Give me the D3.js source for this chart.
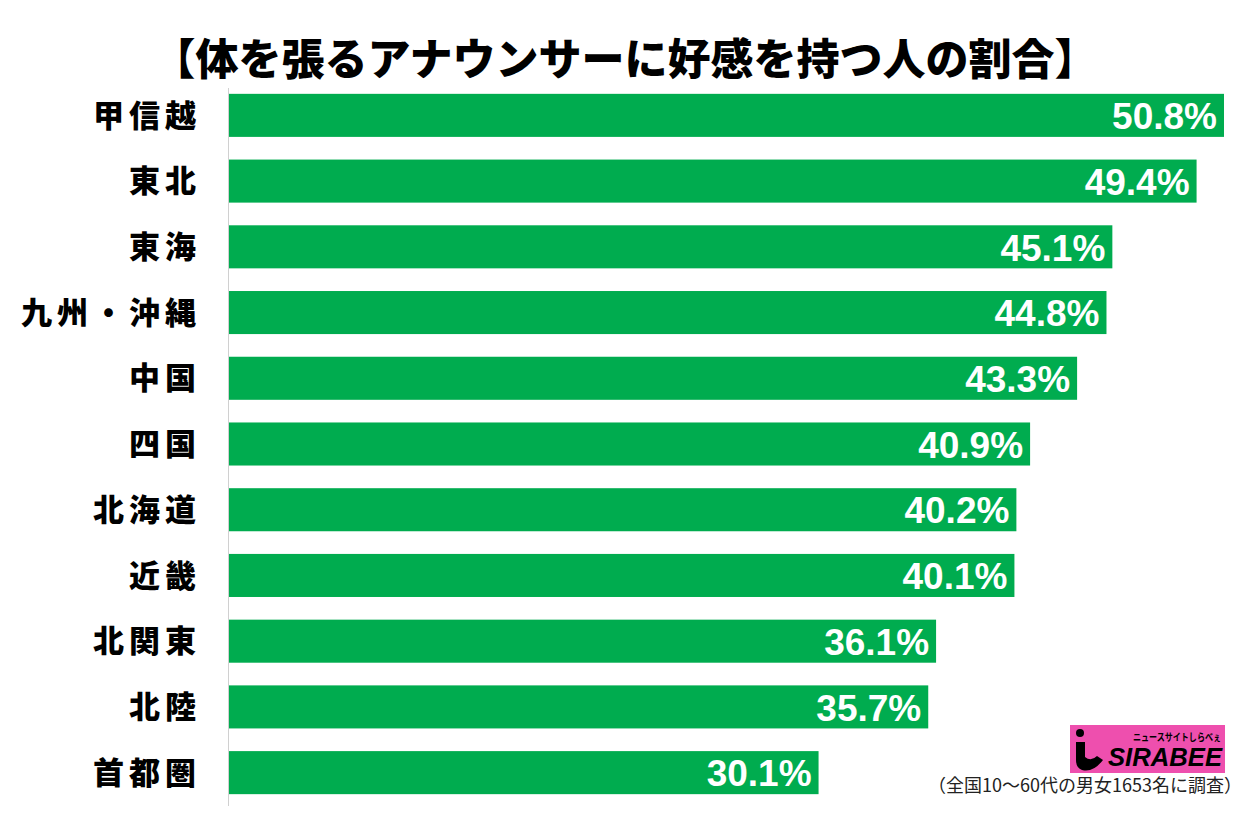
<!DOCTYPE html>
<html><head><meta charset="utf-8">
<script src="https://cdn.jsdelivr.net/npm/d3@7"></script>
<style>body{margin:0;background:#fff;} svg{display:block;}</style>
</head><body>
<script>
const categories = ["甲信越","東北","東海","九州・沖縄","中国","四国","北海道","近畿","北関東","北陸","首都圏"];
const values = [50.8,49.4,45.1,44.8,43.3,40.9,40.2,40.1,36.1,35.7,30.1];
const title = "【体を張るアナウンサーに好感を持つ人の割合】";
const footnote = "（全国10～60代の男女1653名に調査）";

const W = 1260, H = 813;
const svg = d3.select("body").append("svg").attr("width", W).attr("height", H);
const x = d3.scaleLinear().domain([0, 50.8]).range([229, 1224]);
const y = d3.scaleBand().domain(categories).range([82.5, 805.5]).paddingInner(0.345).paddingOuter(0.1725);

svg.append("text").attr("x", 625).attr("y", 75).attr("text-anchor", "middle")
  .attr("font-family", "'Noto Sans CJK JP'").attr("font-weight", 900).attr("font-size", 43)
  .attr("fill", "#000").text(title);

svg.append("line").attr("x1", 228.5).attr("x2", 228.5).attr("y1", 88).attr("y2", 806)
  .attr("stroke", "#d0d0d0").attr("stroke-width", 1);

svg.selectAll("rect.bar").data(values).join("rect").attr("class", "bar")
  .attr("x", x(0)).attr("y", (d, i) => y(categories[i]))
  .attr("width", d => x(d) - x(0)).attr("height", y.bandwidth())
  .attr("fill", "#00AC4F");

svg.selectAll("text.cat").data(categories).join("text").attr("class", "cat")
  .attr("y", d => y(d) + y.bandwidth() / 2).attr("dy", "0.36em")
  .attr("font-family", "'Noto Sans CJK JP'").attr("font-weight", 900)
  .attr("font-size", 31).attr("fill", "#000")
  .each(function(d){
    const t = d3.select(this);
    const chars = Array.from(d);
    const adv = 36;
    chars.forEach((c, k) => {
      t.append("tspan").attr("x", 196 - 31 - (chars.length - 1 - k) * adv).text(c);
    });
  });

svg.selectAll("text.val").data(values).join("text").attr("class", "val")
  .attr("x", d => x(d) - 7).attr("y", (d, i) => y(categories[i]) + y.bandwidth() / 2).attr("dy", "0.37em")
  .attr("text-anchor", "end").attr("font-family", "'Liberation Sans', Arial").attr("font-weight", 700)
  .attr("font-size", 37).attr("fill", "#fff")
  .text(d => d.toFixed(1) + "%");

// logo
const g = svg.append("g");
g.append("rect").attr("x", 1070).attr("y", 725).attr("width", 155).attr("height", 48).attr("fill", "#EE4FAE");
g.append("circle").attr("cx", 1080).attr("cy", 733).attr("r", 4).attr("fill", "#000");
g.append("path").attr("d", "M1076,742 L1085,742 L1085,757 Q1091,762 1097,756 L1103,760 Q1093,773 1082,770 Q1076,768 1076,760 Z").attr("fill", "#000");
g.append("text").attr("x", 1108).attr("y", 766).attr("font-family", "'Liberation Sans', Arial")
  .attr("font-weight", 700).attr("font-style", "italic").attr("font-size", 25).attr("fill", "#000")
  .attr("textLength", 114).attr("lengthAdjust", "spacingAndGlyphs").text("SIRABEE");
g.append("text").attr("x", 1133).attr("y", 741).attr("font-family", "'Noto Sans CJK JP'")
  .attr("font-weight", 700).attr("font-size", 10).attr("fill", "#000")
  .attr("textLength", 88).attr("lengthAdjust", "spacingAndGlyphs").text("ニュースサイトしらべぇ");

svg.append("text").attr("x", 1242).attr("y", 792).attr("text-anchor", "end")
  .attr("font-family", "'Noto Sans CJK JP'").attr("font-size", 18).attr("fill", "#222")
  .text(footnote);
</script>
</body></html>
